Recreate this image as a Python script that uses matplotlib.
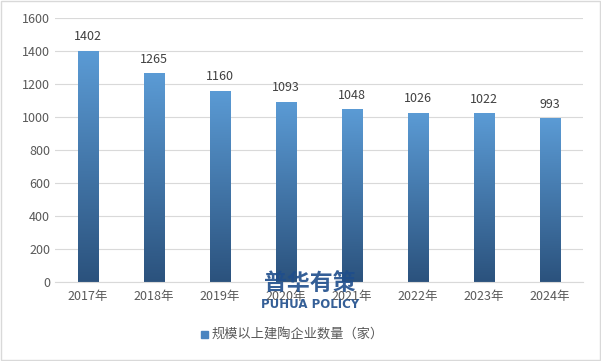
import matplotlib.pyplot as plt
import numpy as np
from matplotlib.colors import LinearSegmentedColormap
from matplotlib.patches import Rectangle

plt.rcParams['font.family'] = ['Noto Sans CJK SC', 'DejaVu Sans']

years = ['2017年', '2018年', '2019年', '2020年', '2021年', '2022年', '2023年', '2024年']
counts = [1402, 1265, 1160, 1093, 1048, 1026, 1022, 993]
series_name = '规模以上建陶企业数量（家）'

fig = plt.figure(figsize=(6.01, 3.61), dpi=100)
ax = fig.add_axes([0.0915, 0.219, 0.8785, 0.731])

cmap = LinearSegmentedColormap.from_list('g', ['#2b527d', '#5b9bd5'])
grad = np.linspace(0, 1, 256).reshape(-1, 1)
x = np.arange(len(years))
w = 0.31
bars = ax.bar(x, counts, width=w, color='none')
for b in bars:
    im = ax.imshow(grad, cmap=cmap, origin='lower', aspect='auto',
                   extent=[b.get_x(), b.get_x() + b.get_width(), 0, b.get_height()], zorder=2)
    im.set_clip_path(b)

for xi, v in zip(x, counts):
    ax.text(xi, v + 45, str(v), ha='center', va='bottom', fontsize=9, color='#404040')

ax.set_xlim(-0.5, len(years) - 0.5)
ax.set_ylim(0, 1600)
ax.set_yticks(range(0, 1601, 200))
ax.set_xticks(x)
ax.set_xticklabels(years)
ax.tick_params(length=0, labelsize=9, colors='#595959')
ax.tick_params(axis='x', pad=6)
ax.grid(axis='y', color='#d9d9d9', linewidth=0.8, zorder=0)
ax.set_axisbelow(True)
for s in ['top', 'right', 'left']:
    ax.spines[s].set_visible(False)
ax.spines['bottom'].set_color('#d9d9d9')

# legend
fig.patches.append(Rectangle((201 / 601, 1 - 338 / 361), 7 / 601, 7 / 361,
                             transform=fig.transFigure, color='#4a85c0'))
fig.text(212 / 601, 1 - 334 / 361, series_name, fontsize=9.5, color='#595959', va='center')

# watermark
fig.text(310 / 601, 1 - 283 / 361, '普华有策', fontsize=16.5, fontweight='bold',
         color='#1f4e8c', ha='center', va='center', alpha=0.9)
fig.text(310 / 601, 1 - 305 / 361, 'PUHUA POLICY', fontsize=8.5, fontweight='bold',
         color='#1f4e8c', ha='center', va='center', alpha=0.9, family='DejaVu Sans')

fig.patches.append(Rectangle((0.001, 0.002), 0.997, 0.995, transform=fig.transFigure,
                             fill=False, edgecolor='#d9d9d9', linewidth=1))

fig.savefig('out.png', dpi=100)
